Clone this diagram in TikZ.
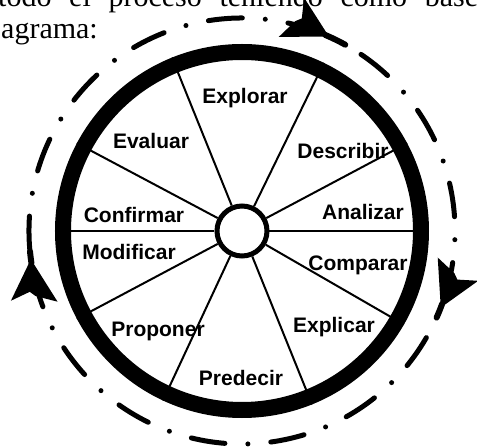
\documentclass[tikz,border=0pt]{standalone}
\usepackage{fontspec}
\setmainfont{Liberation Serif}
\setsansfont{Liberation Sans}
\usepackage{tikz}
\usetikzlibrary{shapes}

\begin{document}
\begin{tikzpicture}[x=1pt, y=1pt]

      \tikzset{rim/.style = {shape=circle,draw,line width=16pt,minimum size=358pt,inner sep=0pt}}
      \tikzset{hubring/.style = {shape=circle,draw,fill=white,line width=5pt,minimum size=50pt,inner sep=0pt}}
      \tikzset{spoke/.style = {line width=2pt}}
      \tikzset{stage/.style = {anchor=base,inner sep=0pt,font=\sffamily\bfseries\fontsize{21}{25}\selectfont}}
      \tikzset{prose/.style = {anchor=base west,inner sep=0pt,font=\fontsize{30}{36}\selectfont}}
      \tikzset{cycleline/.style = {line width=5pt,line cap=round,dash pattern=on 34pt off 23pt on 0pt off 23pt}}
      \tikzset{stem/.style = {line width=6pt,line cap=round}}
      \newcommand{\cwhead}[2]{\fill[shift={(#1:213)}, rotate=#2] (4,0) -- (-34,26) -- (-28,6) -- (-33,1) -- (-42,-20) -- cycle;}

      \useasboundingbox (-242,-216) rectangle (235,231);

      % text above
      \node[prose] (lineone) at (-244,224) {\makebox[480pt][s]{todo el proceso teniendo como base}};
      \node[prose] (linetwo) at (-241,192) {agrama:};

      % wheel
      \node[rim] (rim) at (0,0) {};
      \node[hubring] (hub) at (0,0) {};
      % spokes
      \draw[spoke] (hub.0)   -- (rim.0);
      \draw[spoke] (hub.28)  -- (rim.28);
      \draw[spoke] (hub.64)  -- (rim.64);
      \draw[spoke] (hub.112) -- (rim.112);
      \draw[spoke] (hub.152) -- (rim.152);
      \draw[spoke] (hub.180) -- (rim.180);
      \draw[spoke] (hub.208) -- (rim.208);
      \draw[spoke] (hub.245) -- (rim.245);
      \draw[spoke] (hub.292) -- (rim.292);
      \draw[spoke] (hub.330) -- (rim.330);

      % stages
      \node[stage] (explorar)  at (3,127)     {Explorar};
      \node[stage] (describir) at (101,72)    {Describir};
      \node[stage] (analizar)  at (121,11)    {Analizar};
      \node[stage] (comparar)  at (116,-40)   {Comparar};
      \node[stage] (explicar)  at (92,-102)   {Explicar};
      \node[stage] (predecir)  at (-1,-154)   {Predecir};
      \node[stage] (proponer)  at (-84,-106)  {Proponer};
      \node[stage] (modificar) at (-113,-29)  {Modificar};
      \node[stage] (confirmar) at (-108,8)    {Confirmar};
      \node[stage] (evaluar)   at (-91,82)    {Evaluar};

      % cycle round the wheel
      \draw[cycleline] (191.7:213) arc[start angle=191.7, end angle=551.7, radius=213];
      \cwhead{67}{-23}
      \draw[stem] (67:213) arc[start angle=67, end angle=61, radius=213];
      \cwhead{-20}{-110}
      \draw[stem] (-20:213) arc[start angle=-20, end angle=-24, radius=213];
      \cwhead{188.7}{98.7}
      \draw[stem] (188.7:213) arc[start angle=188.7, end angle=185.5, radius=213];

\end{tikzpicture}
\end{document}
